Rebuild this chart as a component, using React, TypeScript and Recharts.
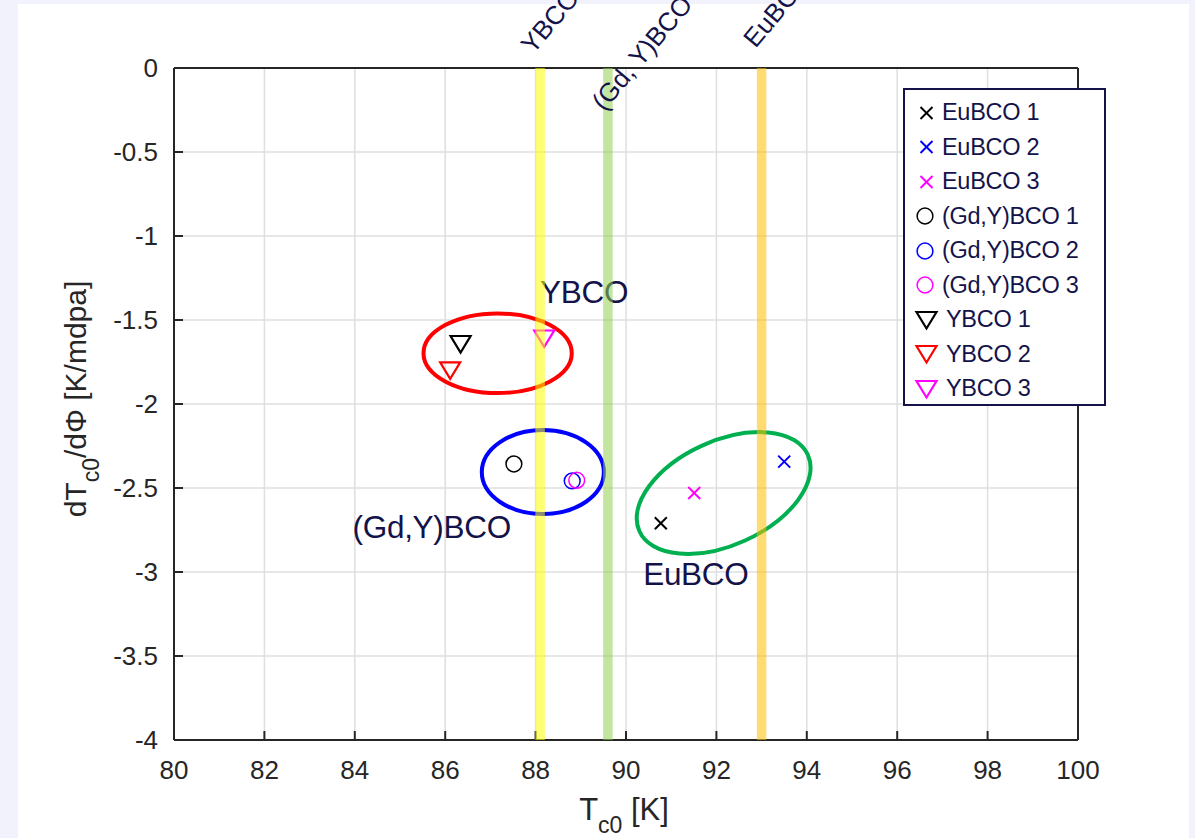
import React from "react";
import {
  CartesianGrid,
  ReferenceDot,
  ReferenceLine,
  Scatter,
  ScatterChart,
  XAxis,
  YAxis,
} from "recharts";

// axes
const xTicks = [80, 82, 84, 86, 88, 90, 92, 94, 96, 98, 100];
const yTicks = [0, -0.5, -1, -1.5, -2, -2.5, -3, -3.5, -4];

// EuBCO samples (x markers)
const euNames = ["EuBCO 1", "EuBCO 2", "EuBCO 3"];
const euTc = [90.77, 93.5, 91.51];
const euSlope = [-2.71, -2.343, -2.53];
const euColors = ["#000000", "#0000ff", "#ff00ff"];

// (Gd,Y)BCO samples (circles)
const gdNames = ["(Gd,Y)BCO 1", "(Gd,Y)BCO 2", "(Gd,Y)BCO 3"];
const gdTc = [87.52, 88.81, 88.91];
const gdSlope = [-2.357, -2.458, -2.454];
const gdColors = ["#000000", "#0000ff", "#ff00ff"];

// YBCO samples (down triangles)
const ybNames = ["YBCO 1", "YBCO 2", "YBCO 3"];
const ybTc = [86.34, 86.11, 88.19];
const ybSlope = [-1.643, -1.8, -1.61];
const ybColors = ["#000000", "#ff0000", "#ff00ff"];

// vertical Tc bands
const bandNames = ["YBCO", "(Gd, Y)BCO", "EuBCO"];
const bandTc = [88.1, 89.6, 93.0];
const bandColors = ["#ffff00", "#92d050", "#ffc000"];

// group ellipses: center, semi axes (axis units), tilt
const groupCenterX = [87.16, 88.16, 92.16];
const groupCenterY = [-1.698, -2.405, -2.53];
const groupRx = [1.64, 1.35, 2.046];
const groupRy = [0.237, 0.25, 0.31];
const groupTilt = [0, 0, -24.4];
const groupColors = ["#ff0000", "#0000ff", "#00b050"];

// group text labels
const groupLabels = ["YBCO", "(Gd,Y)BCO", "EuBCO"];
const groupLabelX = [88.1, 83.95, 90.38];
const groupLabelY = [-1.399, -2.798, -3.077];

type Kind = "x" | "o" | "v";

const W = 1195;
const H = 838;
const PLOT_W = 904;
const PLOT_H = 672;
const pxPerX = PLOT_W / (xTicks[xTicks.length - 1] - xTicks[0]);
const pxPerY = PLOT_H / (yTicks[0] - yTicks[yTicks.length - 1]);

const NAVY = "#13134a";
const AXIS = "#262626";
const FONT = "'Liberation Sans', Arial, Helvetica, sans-serif";

const bandLabelShift = [
  { dx: -7, dy: -13 },
  { dx: -4, dy: 44 },
  { dx: -6, dy: -19 },
];

const series = [
  ...euNames.map((name, i) => ({ name, kind: "x" as Kind, color: euColors[i], data: [{ x: euTc[i], y: euSlope[i] }] })),
  ...gdNames.map((name, i) => ({ name, kind: "o" as Kind, color: gdColors[i], data: [{ x: gdTc[i], y: gdSlope[i] }] })),
  ...ybNames.map((name, i) => ({ name, kind: "v" as Kind, color: ybColors[i], data: [{ x: ybTc[i], y: ybSlope[i] }] })),
];

function Marker({ kind, cx, cy, color }: { kind: Kind; cx: number; cy: number; color: string }) {
  if (kind === "x") {
    return (
      <g stroke={color} strokeWidth={2}>
        <line x1={cx - 6} y1={cy - 6} x2={cx + 6} y2={cy + 6} />
        <line x1={cx - 6} y1={cy + 6} x2={cx + 6} y2={cy - 6} />
      </g>
    );
  }
  if (kind === "o") {
    return <circle cx={cx} cy={cy} r={7.9} fill="none" stroke={color} strokeWidth={1.5} />;
  }
  return (
    <polygon
      points={`${cx - 10},${cy - 8} ${cx + 10},${cy - 8} ${cx},${cy + 8.5}`}
      fill="none"
      stroke={color}
      strokeWidth={2.2}
      strokeLinejoin="miter"
    />
  );
}

function Legend() {
  return (
    <div
      style={{
        position: "absolute",
        left: 903,
        top: 88,
        width: 203,
        height: 318,
        boxSizing: "border-box",
        border: `2.5px solid ${NAVY}`,
        background: "#ffffff",
        fontFamily: FONT,
        fontSize: 23.5,
        color: NAVY,
      }}
    >
      {series.map((s, i) => (
        <div
          key={s.name}
          style={{
            position: "absolute",
            left: 0,
            top: 22.7 + i * 34.5 - 17,
            height: 34,
            display: "flex",
            alignItems: "center",
            whiteSpace: "nowrap",
          }}
        >
          <svg width={36} height={34} style={{ display: "block" }}>
            <Marker kind={s.kind} cx={s.kind === "o" ? 20 : 21.5} cy={17} color={s.color} />
          </svg>
          <span style={{ marginLeft: s.kind === "v" ? 5 : 1, letterSpacing: -0.3 }}>{s.name}</span>
        </div>
      ))}
    </div>
  );
}

export default function App() {
  return (
    <div style={{ position: "absolute", left: 0, top: 0, width: W, height: H, background: "#f2f2fc", overflow: "hidden" }}>
      <div style={{ position: "absolute", left: 18, top: 4, width: 1171, height: H - 4, background: "#ffffff" }} />
      <div style={{ position: "absolute", left: 0, top: 0 }}>
        <ScatterChart
          width={W}
          height={H}
          margin={{ top: 58, right: 107, bottom: 38, left: 74 }}
          style={{ fontFamily: FONT }}
        >
          <CartesianGrid stroke="#dfdfdf" strokeWidth={1.5} />
          <XAxis
            type="number"
            dataKey="x"
            domain={[80, 100]}
            ticks={xTicks}
            allowDataOverflow
            height={60}
            stroke={AXIS}
            strokeWidth={2}
            tickSize={-9}
            tickMargin={30}
            tick={{ fill: AXIS, fontSize: 26, fontFamily: FONT }}
            label={{
              content: ({ viewBox }: any) => (
                <text
                  x={viewBox.x + viewBox.width / 2 - 2}
                  y={viewBox.y + 80}
                  textAnchor="middle"
                  fill={AXIS}
                  fontSize={31}
                  fontFamily={FONT}
                >
                  <tspan>T</tspan>
                  <tspan dy={13} fontSize={23}>c0</tspan>
                  <tspan dy={-13}> [K]</tspan>
                </text>
              ),
            }}
          />
          <XAxis
            xAxisId="top"
            orientation="top"
            type="number"
            domain={[80, 100]}
            ticks={xTicks}
            allowDataOverflow
            height={10}
            stroke={AXIS}
            strokeWidth={2}
            tickSize={-9}
            tick={false}
          />
          <YAxis
            type="number"
            dataKey="y"
            domain={[-4, 0]}
            ticks={yTicks}
            allowDataOverflow
            width={100}
            stroke={AXIS}
            strokeWidth={2}
            tickSize={-9}
            tickMargin={25}
            tick={{ fill: AXIS, fontSize: 26, fontFamily: FONT }}
            label={{
              content: ({ viewBox }: any) => {
                const x = viewBox.x + 12;
                const y = viewBox.y + viewBox.height / 2 - 5;
                return (
                  <text
                    x={x}
                    y={y}
                    transform={`rotate(-90 ${x} ${y})`}
                    textAnchor="middle"
                    fill={AXIS}
                    fontSize={30}
                    fontFamily={FONT}
                  >
                    <tspan>dT</tspan>
                    <tspan dy={13} fontSize={23}>c0</tspan>
                    <tspan dy={-13}>/dΦ [K/mdpa]</tspan>
                  </text>
                );
              },
            }}
          />
          <YAxis
            yAxisId="right"
            orientation="right"
            type="number"
            domain={[-4, 0]}
            ticks={yTicks}
            allowDataOverflow
            width={10}
            stroke={AXIS}
            strokeWidth={2}
            tickSize={-9}
            tick={false}
          />

          {groupColors.map((color, i) => (
            <ReferenceDot
              key={`ell-${i}`}
              x={groupCenterX[i]}
              y={groupCenterY[i]}
              r={0}
              shape={(p: any) => (
                <ellipse
                  cx={p.cx}
                  cy={p.cy}
                  rx={groupRx[i] * pxPerX}
                  ry={groupRy[i] * pxPerY}
                  transform={`rotate(${groupTilt[i]} ${p.cx} ${p.cy})`}
                  fill="none"
                  stroke={color}
                  strokeWidth={4}
                />
              )}
            />
          ))}

          {groupLabels.map((text, i) => (
            <ReferenceDot
              key={`lab-${i}`}
              x={groupLabelX[i]}
              y={groupLabelY[i]}
              r={0}
              shape={(p: any) => (
                <text x={p.cx} y={p.cy} fill={NAVY} fontSize={31.5} fontFamily={FONT} letterSpacing={-0.3}>
                  {text}
                </text>
              )}
            />
          ))}

          {series.map((s) => (
            <Scatter
              key={s.name}
              name={s.name}
              data={s.data}
              isAnimationActive={false}
              shape={(p: any) => <Marker kind={s.kind} cx={p.cx} cy={p.cy} color={s.color} />}
            />
          ))}

          {bandTc.map((x, i) => (
            <ReferenceLine
              key={`band-${i}`}
              x={x}
              stroke={bandColors[i]}
              strokeOpacity={0.55}
              strokeWidth={9.5}
              zIndex={800}
              label={{
                content: ({ viewBox }: any) => {
                  const lx = viewBox.x + bandLabelShift[i].dx;
                  const ly = viewBox.y + bandLabelShift[i].dy;
                  return (
                    <text
                      x={lx}
                      y={ly}
                      transform={`rotate(-50 ${lx} ${ly})`}
                      fill={NAVY}
                      fontSize={26}
                      fontFamily={FONT}
                    >
                      {bandNames[i]}
                    </text>
                  );
                },
              }}
            />
          ))}
        </ScatterChart>
      </div>
      <Legend />
    </div>
  );
}
